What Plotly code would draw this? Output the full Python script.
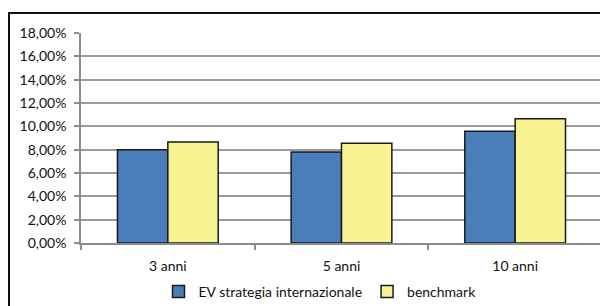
import plotly.graph_objects as go

categories = ["3 anni", "5 anni", "10 anni"]
ev_values = [0.0800, 0.0780, 0.0957]
bench_values = [0.0866, 0.0855, 0.1066]
series_names = ["EV strategia internazionale", "benchmark"]
y_ticks = [i * 0.02 for i in range(10)]

blue = "#4a7ebb"
yellow = "#f8f391"
font = "Lato"

# page body has an 8px default margin, so the figure is drawn 8px in from the top-left
W, H = 600, 298
L, R, T, B = 73, 6, 25, 63
pw, ph = W - L - R, H - T - B

fig = go.Figure()
fig.add_trace(go.Bar(x=categories, y=ev_values, name=series_names[0],
                     marker=dict(color=blue, line=dict(color="#1a1a1a", width=1.5))))
fig.add_trace(go.Bar(x=categories, y=bench_values, name=series_names[1],
                     marker=dict(color=yellow, line=dict(color="#1a1a1a", width=1.5))))

fig.update_layout(
    width=W, height=H,
    margin=dict(l=L, r=R, t=T, b=B, pad=0, autoexpand=False),
    paper_bgcolor="white", plot_bgcolor="white",
    separators=",.",
    barmode="group", bargap=0.42, bargroupgap=0,
    font=dict(family=font, size=14, color="#111111"),
    showlegend=True,
    legend=dict(orientation="h", xref="container", yref="container",
                x=312 / W, xanchor="center", y=1 - 284 / H, yanchor="middle",
                font=dict(family=font, size=14, color="#111111"),
                itemwidth=30, tracegroupgap=0, bgcolor="rgba(0,0,0,0)"),
    xaxis=dict(showline=True, linecolor="#8c8c8c", linewidth=1.5,
               ticks="outside", ticklen=5, tickcolor="#8c8c8c", tickwidth=1.5,
               tickson="boundaries", ticklabelstandoff=9, showgrid=False),
    yaxis=dict(range=[0, 0.18], tickvals=y_ticks, tickformat=".2%",
               showline=True, linecolor="#8c8c8c", linewidth=1.5,
               ticks="outside", ticklen=5, tickcolor="#8c8c8c", tickwidth=1.5,
               showgrid=True, gridcolor="#9a9a9a", gridwidth=1.5,
               zeroline=False, ticklabelstandoff=5),
    shapes=[dict(type="rect", xref="paper", yref="paper",
                 x0=(1 - L) / pw, x1=(W + 20 - L) / pw,
                 y0=(T + ph - (H + 20)) / ph, y1=(T + ph - 5) / ph,
                 line=dict(color="#111111", width=2), layer="below")],
)

fig.write_html("out.html")
